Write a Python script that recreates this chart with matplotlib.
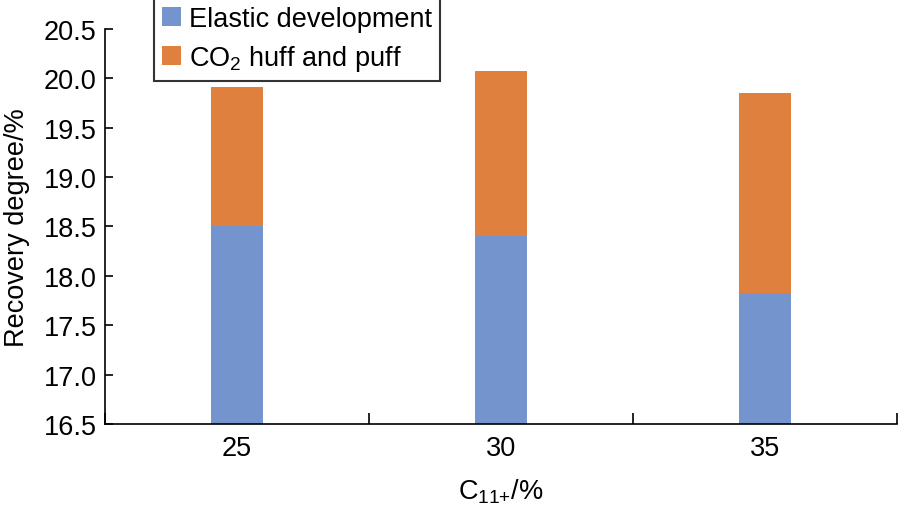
import matplotlib
matplotlib.use("Agg")
import matplotlib.pyplot as plt
import numpy as np

categories = ["25", "30", "35"]
elastic = [18.50, 18.40, 17.83]
co2_extra = [1.41, 1.67, 2.02]
yticks = [16.5, 17.0, 17.5, 18.0, 18.5, 19.0, 19.5, 20.0, 20.5]

plt.rcParams['font.family'] = ['Liberation Sans', 'DejaVu Sans']
plt.rcParams['mathtext.fontset'] = 'custom'
plt.rcParams['mathtext.rm'] = 'Liberation Sans'
plt.rcParams['mathtext.it'] = 'Liberation Sans'
plt.rcParams['mathtext.bf'] = 'Liberation Sans'

FS = 19.5

fig = plt.figure(figsize=(9, 5.1), dpi=100)
ax = fig.add_axes([0.1167, 0.1667, 0.88, 0.7745])

x = np.arange(len(categories))
w = 0.2
ax.bar(x, elastic, w, color="#7394CC", label="Elastic development", zorder=2)
ax.bar(x, co2_extra, w, bottom=elastic, color="#E0803E", label="CO$_2$ huff and puff", zorder=2)

ax.set_ylim(16.5, 20.5)
ax.set_yticks(yticks)
ax.set_yticklabels([f"{v:.1f}" for v in yticks])
ax.set_xlim(-0.5, len(categories) - 0.5)
ax.set_xticks(x)
ax.set_xticklabels(categories)
ax.set_xticks(np.arange(-0.5, len(categories)), minor=True)
ax.tick_params(axis='x', which='major', length=0, labelsize=FS, pad=8)
ax.tick_params(axis='x', which='minor', direction='in', length=8, width=1.2)
ax.tick_params(axis='y', direction='in', length=6, width=1.2, labelsize=FS, pad=6)

for s in ['top', 'right']:
    ax.spines[s].set_visible(False)
for s in ['left', 'bottom']:
    ax.spines[s].set_linewidth(1.2)

ax.set_ylabel("Recovery degree/%", fontsize=FS, labelpad=10)
ax.set_xlabel("C$_{11{+}}$/%", fontsize=FS, labelpad=11)

leg = ax.legend(loc='upper left', bbox_to_anchor=(0.062, 1.078), fontsize=FS,
                frameon=True, fancybox=False, edgecolor='black',
                handlelength=0.7, handleheight=0.7, handletextpad=0.3,
                borderpad=0.3, labelspacing=0.4, borderaxespad=0)
leg.get_frame().set_linewidth(1.5)

fig.savefig("out.png", dpi=100)
